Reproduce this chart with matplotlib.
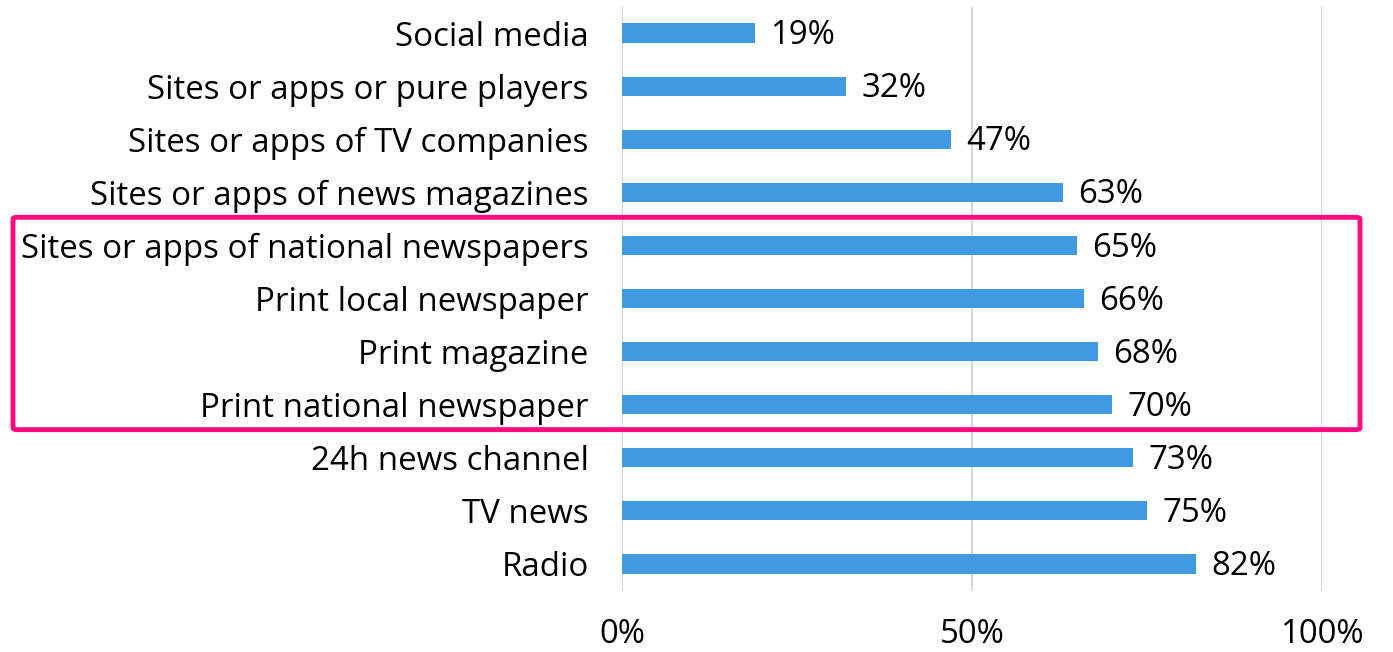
import matplotlib.pyplot as plt
from matplotlib.patches import FancyBboxPatch

categories = [
    "Social media",
    "Sites or apps or pure players",
    "Sites or apps of TV companies",
    "Sites or apps of news magazines",
    "Sites or apps of national newspapers",
    "Print local newspaper",
    "Print magazine",
    "Print national newspaper",
    "24h news channel",
    "TV news",
    "Radio",
]
values = [19, 32, 47, 63, 65, 66, 68, 70, 73, 75, 82]
ticks = [0, 50, 100]
tick_labels = ["0%", "50%", "100%"]
highlighted = ["Sites or apps of national newspapers", "Print national newspaper"]

plt.rcParams['font.family'] = ['Open Sans', 'DejaVu Sans']

W, H = 1393, 652
fig = plt.figure(figsize=(W / 100, H / 100), dpi=100)
ax = fig.add_axes([622 / W, 1 - 590.5 / H, 700 / W, (590.5 - 6.5) / H])

y = list(range(len(categories)))
ax.barh(y, values, height=0.36, color='#4199e1', zorder=3)
for yi, v in zip(y, values):
    ax.text(v + 2.2, yi + 0.05, f"{v}%", va='center', ha='left', fontsize=23.8, color='black')

ax.set_xlim(0, 100)
ax.set_ylim(len(categories) - 0.5, -0.5)
ax.set_yticks(y)
ax.set_yticklabels(categories, fontsize=23.8)
ax.set_xticks(ticks)
ax.set_xticklabels(tick_labels, fontsize=23.8)
ax.tick_params(axis='y', length=0, pad=24)
ax.tick_params(axis='x', length=0, pad=20)
ax.grid(axis='x', color='#d9d9d9', linewidth=1.5, zorder=0)
for s in ax.spines.values():
    s.set_visible(False)

# highlight box around the newspaper rows
i0 = categories.index(highlighted[0])
i1 = categories.index(highlighted[1])
to_fig = lambda yy: fig.transFigure.inverted().transform(ax.transData.transform((0, yy)))[1]
top = to_fig(i0 - 0.53)
bottom = to_fig(i1 + 0.47)
left, right = 13 / W, 1360 / W
box = FancyBboxPatch((left, bottom), right - left, top - bottom,
                     boxstyle="round,pad=0,rounding_size=0.003",
                     transform=fig.transFigure, fill=False,
                     edgecolor='#ff0a80', linewidth=3.5, clip_on=False)
fig.patches.append(box)

fig.savefig("out.png", dpi=100)
